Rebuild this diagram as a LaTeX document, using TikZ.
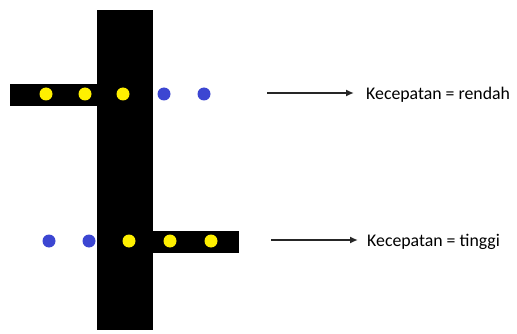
\documentclass[tikz,border=0pt]{standalone}
\usepackage{fontspec}
\setmainfont{Carlito}
\usetikzlibrary{arrows.meta}
\definecolor{dotyellow}{RGB}{255,240,0}
\definecolor{dotblue}{RGB}{60,70,210}
\begin{document}
\begin{tikzpicture}[x=1pt,y=-1pt,
  bar/.style={fill=black,draw=none},
  ydot/.style={circle,fill=dotyellow,inner sep=0pt,minimum size=13pt},
  bdot/.style={circle,fill=dotblue,inner sep=0pt,minimum size=13pt},
  pointer/.style={draw=black!85,line width=1.7pt,-{Latex[length=8pt,width=7pt]}},
  label/.style={anchor=west,inner sep=0pt,font=\fontsize{17.8}{20}\selectfont}]
\useasboundingbox[fill=white] (0,0) rectangle (517,334);
% shafts
\fill[bar] (97,10) rectangle (153,330);
\fill[bar] (10,84) rectangle (97,106);
\fill[bar] (153,231) rectangle (239,253);
% upper row of dots
\node[ydot] (u1) at (46,94) {};
\node[ydot] (u2) at (85,94) {};
\node[ydot] (u3) at (123,94) {};
\node[bdot] (u4) at (164,94) {};
\node[bdot] (u5) at (204,94) {};
% lower row of dots
\node[bdot] (l1) at (49,241) {};
\node[bdot] (l2) at (89,241) {};
\node[ydot] (l3) at (129,241) {};
\node[ydot] (l4) at (170,241) {};
\node[ydot] (l5) at (211,241) {};
% labels and pointers
\coordinate (a1) at (267,93);
\node[label] (t1) at (366,95) {Kecepatan = rendah};
\draw[pointer] (a1) -- ([xshift=-12pt]t1.west |- a1);
\coordinate (a2) at (271,240);
\node[label] (t2) at (367,242) {Kecepatan = tinggi};
\draw[pointer] (a2) -- ([xshift=-9pt]t2.west |- a2);
\end{tikzpicture}
\end{document}
